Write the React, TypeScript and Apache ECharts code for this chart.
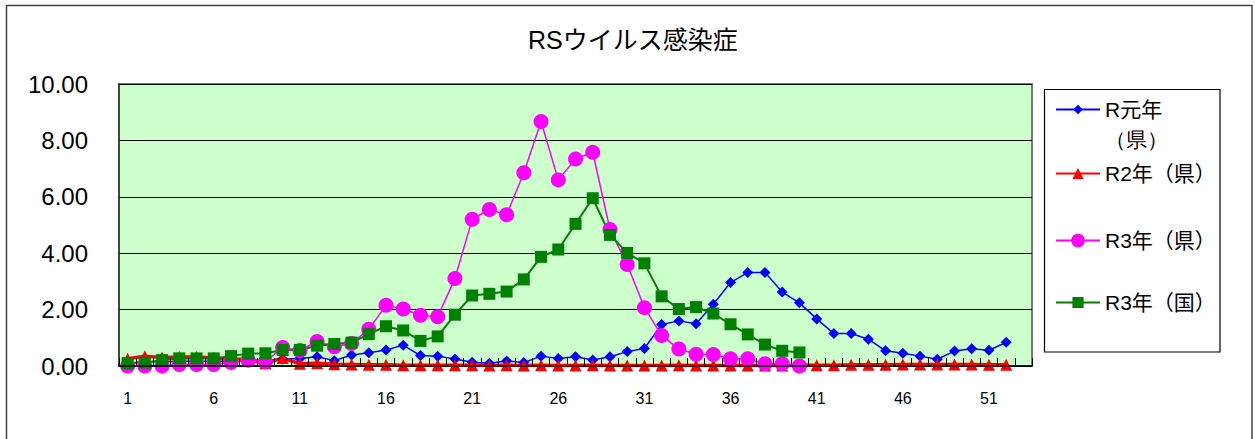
import React, { useEffect, useRef } from "react";
import * as echarts from "echarts";

const FONT = '"Liberation Sans", Arial, "Noto Sans CJK JP", sans-serif';

const TITLE = "RSウイルス感染症";
const WEEKS: string[] = [
  "1","2","3","4","5","6","7","8","9","10","11","12","13","14","15","16","17","18","19","20",
  "21","22","23","24","25","26","27","28","29","30","31","32","33","34","35","36","37","38","39","40",
  "41","42","43","44","45","46","47","48","49","50","51","52","53",
];
const Y_TICKS = [0, 2, 4, 6, 8, 10];

const NAME_R1 = "R元年（県）";
const NAME_R2 = "R2年（県）";
const NAME_R3 = "R3年（県）";
const NAME_R3N = "R3年（国）";

const R1_PREF: number[] = [
  0.1, 0.15, 0.15, 0.17, 0.17, 0.17, 0.17, 0.2, 0.2, 0.25, 0.27, 0.33, 0.19, 0.39, 0.47, 0.57, 0.74, 0.37, 0.35, 0.25,
  0.13, 0.1, 0.18, 0.12, 0.35, 0.27, 0.33, 0.21, 0.33, 0.51, 0.62, 1.47, 1.6, 1.5, 2.19, 2.96, 3.32, 3.32, 2.62, 2.24,
  1.67, 1.15, 1.15, 0.95, 0.54, 0.45, 0.35, 0.24, 0.53, 0.61, 0.56, 0.84,
];
const R2_PREF: number[] = [
  0.26, 0.35, 0.3, 0.32, 0.32, 0.28, 0.25, 0.22, 0.1, 0.28, 0.08, 0.1, 0.06, 0.05, 0.04, 0.04, 0.03, 0.03, 0.03, 0.03,
  0.03, 0.02, 0.03, 0.02, 0.03, 0.02, 0.02, 0.03, 0.02, 0.02, 0.02, 0.02, 0.03, 0.02, 0.02, 0.02, 0.02, 0.02, 0.02, 0.03,
  0.03, 0.03, 0.04, 0.04, 0.04, 0.05, 0.05, 0.05, 0.05, 0.05, 0.04, 0.04,
];
const R3_PREF: number[] = [
  0, 0, 0, 0.05, 0.05, 0.05, 0.12, 0.2, 0.15, 0.66, 0.55, 0.87, 0.68, 0.8, 1.3, 2.15, 2.02, 1.8, 1.75, 3.1,
  5.2, 5.55, 5.36, 6.85, 8.67, 6.6, 7.34, 7.58, 4.84, 3.6, 2.07, 1.08, 0.6, 0.42, 0.41, 0.26, 0.26, 0.08, 0.08, 0,
];
const R3_NATION: number[] = [
  0.1, 0.12, 0.21, 0.27, 0.27, 0.27, 0.35, 0.44, 0.45, 0.57, 0.57, 0.72, 0.78, 0.83, 1.13, 1.41, 1.26, 0.89, 1.05, 1.82,
  2.5, 2.56, 2.64, 3.07, 3.87, 4.13, 5.04, 5.95, 4.65, 4.01, 3.64, 2.47, 2.02, 2.09, 1.86, 1.48, 1.12, 0.76, 0.54, 0.48,
];

export default function App() {
  const ref = useRef<HTMLDivElement>(null);

  useEffect(() => {
    if (!ref.current) return;
    const chart = echarts.init(ref.current, null, { renderer: "svg" });

    const legendBase = {
      left: 1055,
      itemWidth: 44,
      itemGap: 0,
      orient: "vertical" as const,
      selectedMode: false,
      padding: 0,
      textStyle: { fontSize: 21, color: "#000", fontFamily: FONT },
    };

    chart.setOption({
      animation: false,
      backgroundColor: "#fff",
      textStyle: { fontFamily: FONT },
      title: {
        text: TITLE,
        left: 528,
        top: 27,
        padding: 0,
        textStyle: { fontSize: 25, fontWeight: "normal", color: "#000", fontFamily: FONT },
      },
      grid: {
        left: 119,
        right: 223,
        top: 84,
        bottom: 73,
        show: true,
        backgroundColor: "#CCFFCC",
        borderColor: "#777",
        borderWidth: 2,
      },
      legend: [
        { ...legendBase, top: 99, itemHeight: 12, data: [NAME_R1], formatter: () => "R元年" },
        { ...legendBase, top: 163, itemHeight: 14, data: [NAME_R2] },
        { ...legendBase, top: 230, itemHeight: 17, data: [NAME_R3] },
        { ...legendBase, top: 292, itemHeight: 14, data: [NAME_R3N] },
      ],
      xAxis: {
        type: "category",
        data: WEEKS,
        boundaryGap: true,
        z: 5,
        axisLine: { show: true, lineStyle: { color: "#000", width: 1.5 } },
        axisTick: { show: true, inside: true, length: 8, interval: 0, lineStyle: { color: "#000", width: 1 } },
        axisLabel: { interval: 4, fontSize: 16, margin: 24, color: "#000", fontFamily: FONT },
        splitLine: { show: false },
      },
      yAxis: {
        type: "value",
        min: Y_TICKS[0],
        max: Y_TICKS[Y_TICKS.length - 1],
        interval: 2,
        axisLine: { show: true, lineStyle: { color: "#333", width: 1.5 } },
        axisTick: { show: false },
        axisLabel: {
          fontSize: 24,
          margin: 31,
          color: "#000",
          fontFamily: FONT,
          formatter: (v: number) => v.toFixed(2),
        },
        splitLine: { show: true, lineStyle: { color: "#000", width: 1 } },
      },
      graphic: [
        {
          type: "rect",
          z: -10,
          silent: true,
          shape: { x: 6.5, y: 5.5, width: 1245.5, height: 460 },
          style: { fill: "none", stroke: "#444", lineWidth: 1.5 },
        },
        {
          type: "rect",
          z: -5,
          silent: true,
          shape: { x: 1044.5, y: 89.5, width: 175.5, height: 262.5 },
          style: { fill: "#fff", stroke: "#000", lineWidth: 1.2 },
        },
        {
          type: "text",
          left: 1105,
          top: 129,
          style: { text: "（県）", fontSize: 21, fill: "#000", font: `21px ${FONT}` },
        },
      ],
      series: [
        {
          name: NAME_R1,
          type: "line",
          data: R1_PREF,
          symbol: "diamond",
          symbolSize: 11,
          showAllSymbol: true,
          lineStyle: { color: "#0000FF", width: 1.5 },
          itemStyle: { color: "#0000FF" },
        },
        {
          name: NAME_R2,
          type: "line",
          data: R2_PREF,
          symbol: "triangle",
          symbolSize: 12,
          showAllSymbol: true,
          lineStyle: { color: "#FF0000", width: 3.5 },
          itemStyle: { color: "#FF0000" },
        },
        {
          name: NAME_R3,
          type: "line",
          data: R3_PREF,
          symbol: "circle",
          symbolSize: 15,
          showAllSymbol: true,
          lineStyle: { color: "#FF00FF", width: 1.5 },
          itemStyle: { color: "#FF00FF" },
        },
        {
          name: NAME_R3N,
          type: "line",
          data: R3_NATION,
          symbol: "rect",
          symbolSize: 12,
          showAllSymbol: true,
          lineStyle: { color: "#008000", width: 2 },
          itemStyle: { color: "#008000" },
        },
      ],
    });

    return () => chart.dispose();
  }, []);

  return (
    <div
      ref={ref}
      style={{ position: "fixed", left: 0, top: 0, width: 1255, height: 439 }}
    />
  );
}
